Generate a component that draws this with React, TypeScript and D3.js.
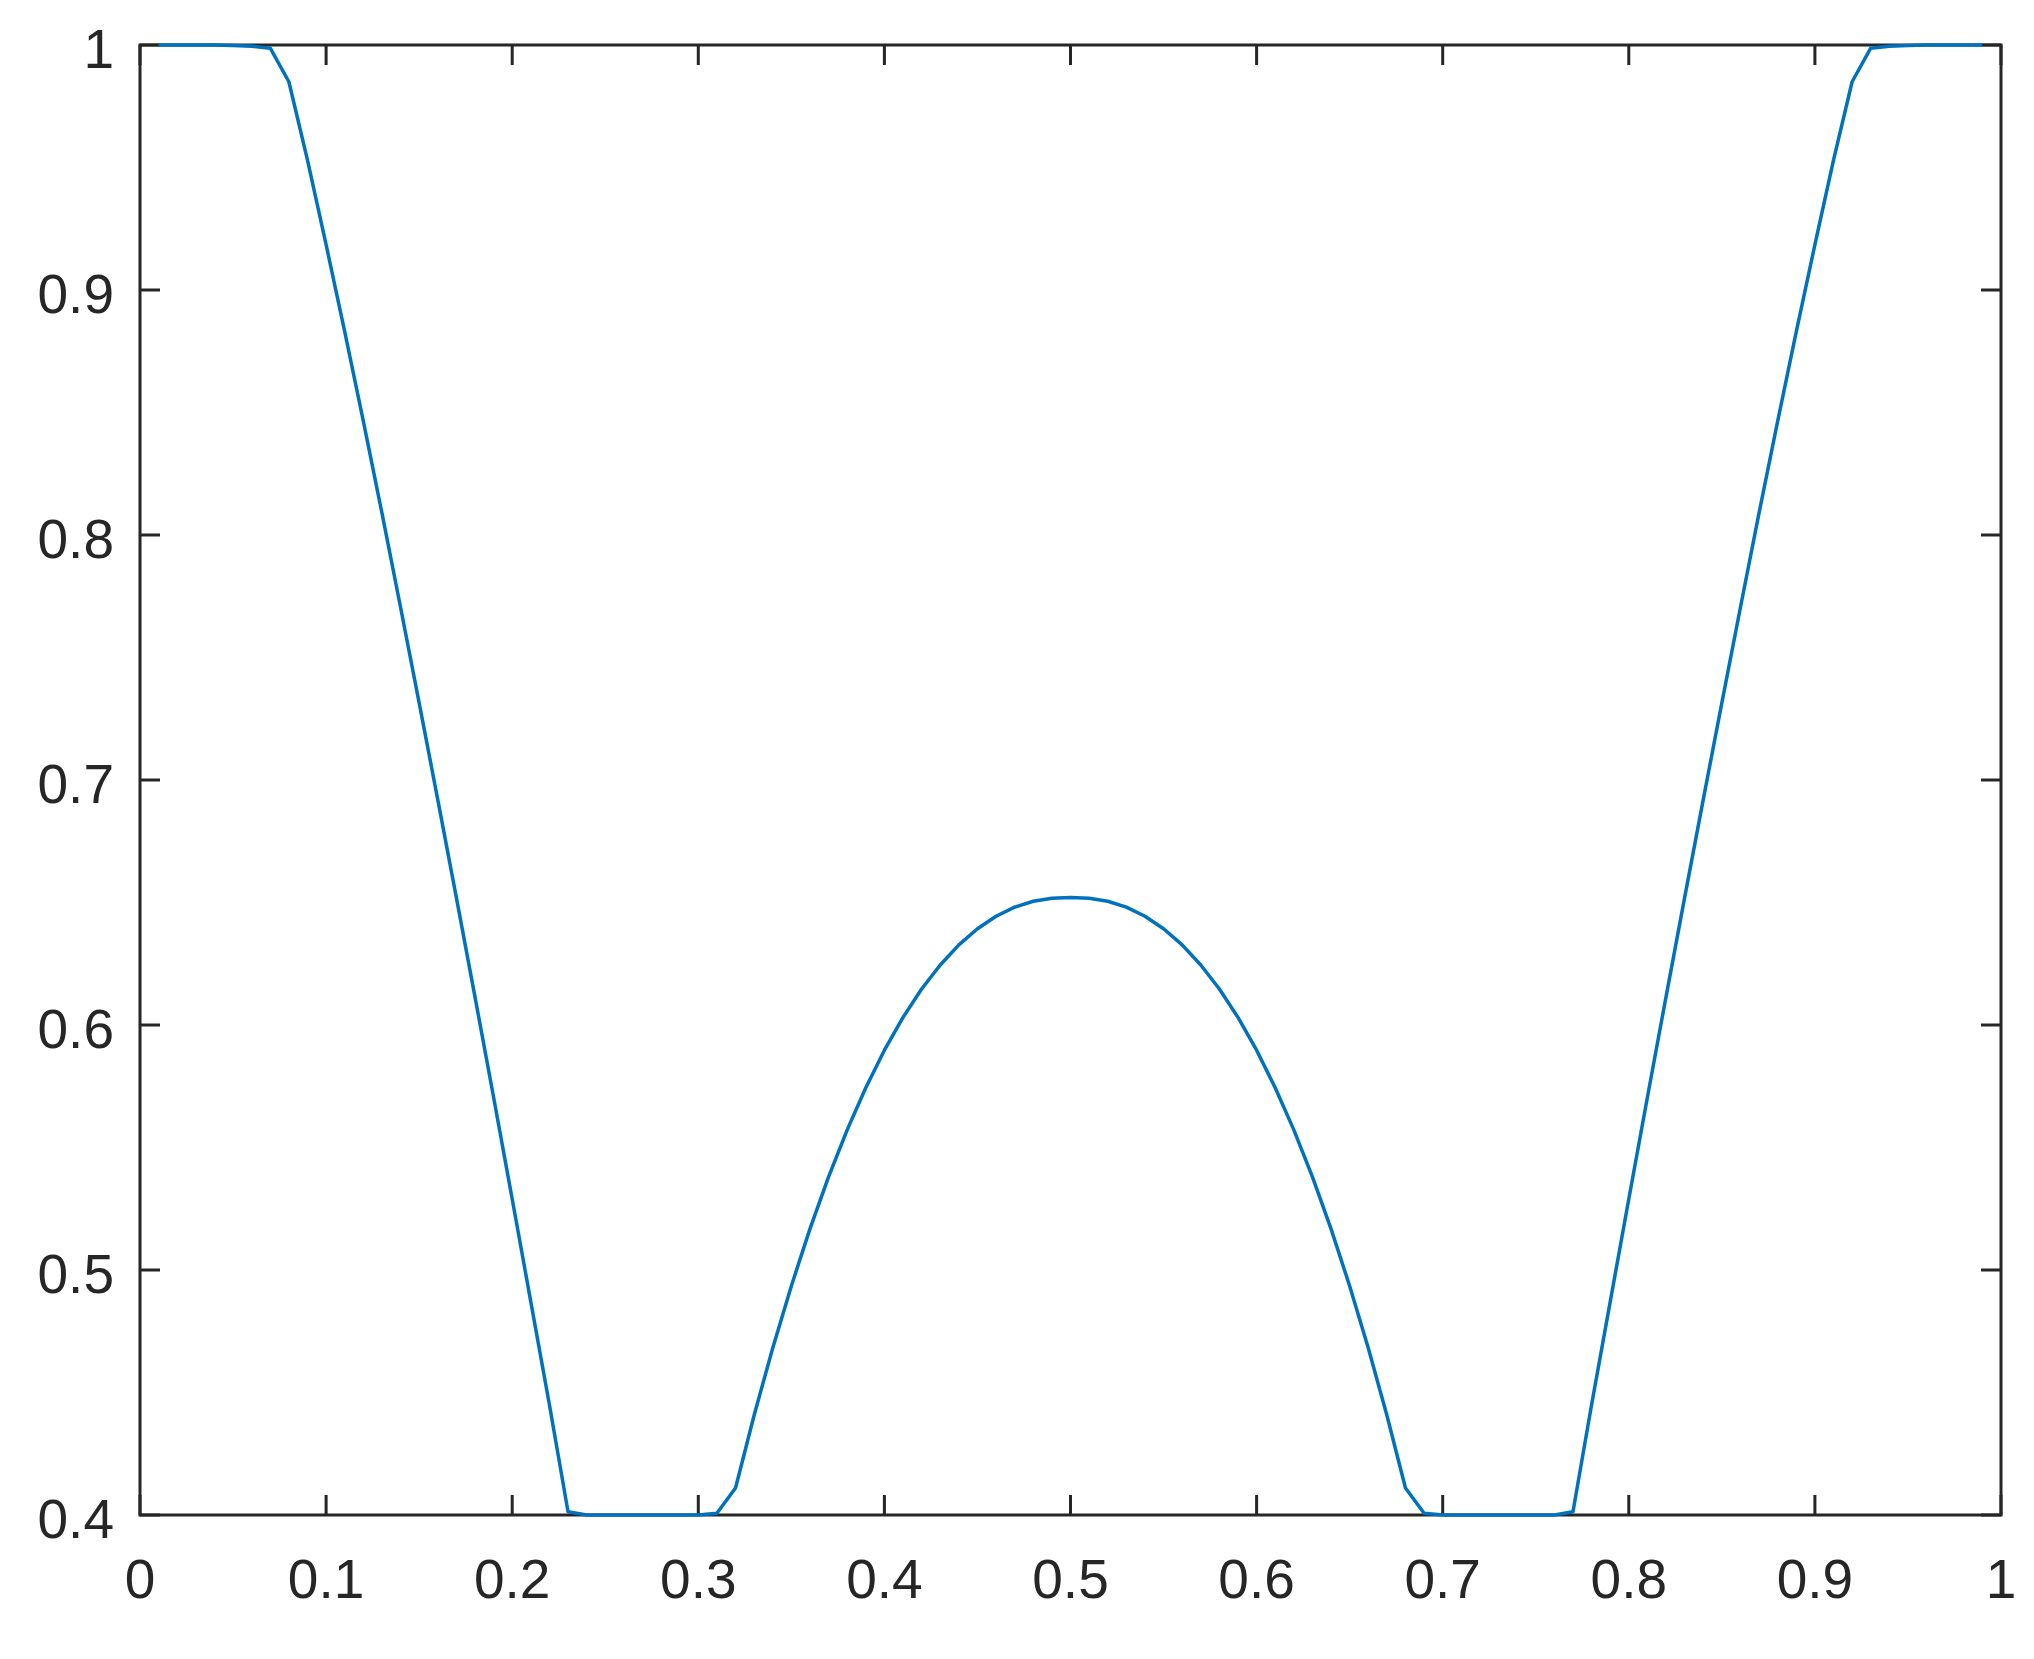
import React from "react";
import * as d3 from "d3";

const WIDTH = 2034;
const HEIGHT = 1659;
const MARGIN = { top: 45, right: 33, bottom: 144, left: 140 };
const TICK_LEN = 20;
const AXIS_COLOR = "#262626";
const LINE_COLOR = "#0072BD";
const FONT = "'Liberation Sans', Arial, Helvetica, sans-serif";

const xTicks = [0, 0.1, 0.2, 0.3, 0.4, 0.5, 0.6, 0.7, 0.8, 0.9, 1];
const xTickLabels = ["0", "0.1", "0.2", "0.3", "0.4", "0.5", "0.6", "0.7", "0.8", "0.9", "1"];
const yTicks = [0.4, 0.5, 0.6, 0.7, 0.8, 0.9, 1];
const yTickLabels = ["0.4", "0.5", "0.6", "0.7", "0.8", "0.9", "1"];

// sample positions
const xs = [
  0.01, 0.02, 0.03, 0.04, 0.05, 0.06, 0.07, 0.08, 0.09, 0.1,
  0.11, 0.12, 0.13, 0.14, 0.15, 0.16, 0.17, 0.18, 0.19, 0.2,
  0.21, 0.22, 0.23, 0.24, 0.25, 0.26, 0.27, 0.28, 0.29, 0.3,
  0.31, 0.32, 0.33, 0.34, 0.35, 0.36, 0.37, 0.38, 0.39, 0.4,
  0.41, 0.42, 0.43, 0.44, 0.45, 0.46, 0.47, 0.48, 0.49, 0.5,
  0.51, 0.52, 0.53, 0.54, 0.55, 0.56, 0.57, 0.58, 0.59, 0.6,
  0.61, 0.62, 0.63, 0.64, 0.65, 0.66, 0.67, 0.68, 0.69, 0.7,
  0.71, 0.72, 0.73, 0.74, 0.75, 0.76, 0.77, 0.78, 0.79, 0.8,
  0.81, 0.82, 0.83, 0.84, 0.85, 0.86, 0.87, 0.88, 0.89, 0.9,
  0.91, 0.92, 0.93, 0.94, 0.95, 0.96, 0.97, 0.98, 0.99,
];

// values
const ys = [
  1, 1, 1, 1, 0.9998, 0.9995, 0.9987, 0.985, 0.953, 0.9185,
  0.883, 0.8465, 0.809, 0.7705, 0.7315, 0.692, 0.652, 0.6115, 0.5705, 0.529,
  0.487, 0.445, 0.4013, 0.4, 0.4, 0.4, 0.4, 0.4, 0.4, 0.4,
  0.4007, 0.411, 0.4407, 0.4682, 0.4935, 0.5168, 0.538, 0.5572, 0.5744, 0.5897,
  0.6031, 0.6147, 0.6245, 0.6327, 0.6393, 0.6444, 0.6481, 0.6505, 0.6517, 0.652,
  0.6517, 0.6505, 0.6481, 0.6444, 0.6393, 0.6327, 0.6245, 0.6147, 0.6031, 0.5897,
  0.5744, 0.5572, 0.538, 0.5168, 0.4935, 0.4682, 0.4407, 0.411, 0.4007, 0.4,
  0.4, 0.4, 0.4, 0.4, 0.4, 0.4, 0.4013, 0.445, 0.487, 0.529,
  0.5705, 0.6115, 0.652, 0.692, 0.7315, 0.7705, 0.809, 0.8465, 0.883, 0.9185,
  0.953, 0.985, 0.9987, 0.9995, 0.9998, 1, 1, 1, 1,
];

export default function App() {
  const boundsWidth = WIDTH - MARGIN.left - MARGIN.right;
  const boundsHeight = HEIGHT - MARGIN.top - MARGIN.bottom;

  const xScale = d3.scaleLinear().domain([0, 1]).range([0, boundsWidth]);
  const yScale = d3.scaleLinear().domain([0.4, 1]).range([boundsHeight, 0]);

  const line = d3
    .line<number>()
    .x((_, i) => xScale(xs[i]))
    .y((d) => yScale(d));

  return (
    <div>
      <style>{`body { margin: 0; background: #fff; }`}</style>
      <svg width={WIDTH} height={HEIGHT} style={{ display: "block", background: "#fff" }}>
        <g transform={`translate(${MARGIN.left},${MARGIN.top})`}>
          {/* box */}
          <rect
            x={0}
            y={0}
            width={boundsWidth}
            height={boundsHeight}
            fill="none"
            stroke={AXIS_COLOR}
            strokeWidth={3}
          />

          {/* x ticks, bottom and top, pointing in */}
          {xTicks.map((t, i) => (
            <g key={"x" + i}>
              <line x1={xScale(t)} x2={xScale(t)} y1={boundsHeight} y2={boundsHeight - TICK_LEN} stroke={AXIS_COLOR} strokeWidth={3} />
              <line x1={xScale(t)} x2={xScale(t)} y1={0} y2={TICK_LEN} stroke={AXIS_COLOR} strokeWidth={3} />
              <text
                x={xScale(t)}
                y={boundsHeight + 83}
                textAnchor="middle"
                fontFamily={FONT}
                fontSize={55}
                fill={AXIS_COLOR}
              >
                {xTickLabels[i]}
              </text>
            </g>
          ))}

          {/* y ticks, left and right */}
          {yTicks.map((t, i) => (
            <g key={"y" + i}>
              <line x1={0} x2={TICK_LEN} y1={yScale(t)} y2={yScale(t)} stroke={AXIS_COLOR} strokeWidth={3} />
              <line x1={boundsWidth} x2={boundsWidth - TICK_LEN} y1={yScale(t)} y2={yScale(t)} stroke={AXIS_COLOR} strokeWidth={3} />
              <text
                x={-26}
                y={yScale(t) + 23}
                textAnchor="end"
                fontFamily={FONT}
                fontSize={55}
                fill={AXIS_COLOR}
              >
                {yTickLabels[i]}
              </text>
            </g>
          ))}

          <path d={line(ys) || ""} fill="none" stroke={LINE_COLOR} strokeWidth={3.5} strokeLinejoin="round" />
        </g>
      </svg>
    </div>
  );
}
